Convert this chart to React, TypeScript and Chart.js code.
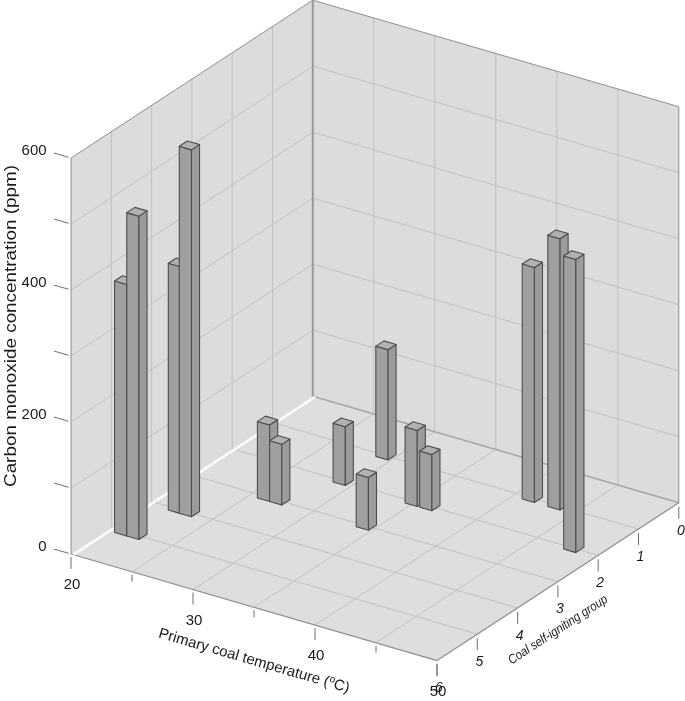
import { useEffect, useRef } from "react";
import { Chart, registerables, Plugin } from "chart.js";

Chart.register(...registerables);

// axis ticks
const tempLabels = [20, 30, 40, 50];
const tempMinor = [25, 35, 45];
const groupLabels = [0, 1, 2, 3, 4, 5, 6];
const valueLabels = [0, 200, 400, 600];
const valueMinor = [100, 300, 500];

// one bar per sample: temperature, self-igniting group, CO concentration
const barTemps = [21.1, 22.1, 22.2, 23.1, 26.2, 27.2, 29.1, 29.3, 34.3, 35.0, 36.2, 41.3, 43.4, 48.0];
const barGroups = [5, 5, 4, 4, 3, 3, 2, 1, 3, 2, 2, 1, 1, 2];
const barValues = [381, 490, 374, 556, 116, 92, 89, 167, 80, 115, 85, 356, 411, 444];

const T_MIN = 20;
const T_MAX = 50;
const G_MAX = 6;
const V_MAX = 600;

// oblique projection of the depth (group) axis and the tilt of the temperature axis
const GX = 40.3;
const GY = 26.3;
const T_SLOPE = 0.291;
const BAR_HALF_T = 0.5;
const BAR_HALF_G = 0.1;

const FONT = '"Liberation Sans", Arial, sans-serif';

type P = [number, number];

const box3dPlugin: Plugin<"scatter"> = {
  id: "box3d",
  beforeDatasetsDraw: (chart) => {
    const { ctx } = chart;
    const xs = chart.scales.x;
    const ys = chart.scales.y;
    const x0 = xs.getPixelForValue(T_MIN);

    const proj = (t: number, g: number, v: number): P => {
      const px = xs.getPixelForValue(t);
      const back = G_MAX - g;
      return [px + back * GX, ys.getPixelForValue(v) + (px - x0) * T_SLOPE - back * GY];
    };

    const poly = (pts: P[], fill: string | null, stroke: string | null, lw = 1) => {
      ctx.beginPath();
      ctx.moveTo(pts[0][0], pts[0][1]);
      for (let i = 1; i < pts.length; i++) ctx.lineTo(pts[i][0], pts[i][1]);
      ctx.closePath();
      if (fill) {
        ctx.fillStyle = fill;
        ctx.fill();
      }
      if (stroke) {
        ctx.strokeStyle = stroke;
        ctx.lineWidth = lw;
        ctx.stroke();
      }
    };

    const line = (a: P, b: P, color: string, lw = 1) => {
      ctx.beginPath();
      ctx.moveTo(a[0], a[1]);
      ctx.lineTo(b[0], b[1]);
      ctx.strokeStyle = color;
      ctx.lineWidth = lw;
      ctx.stroke();
    };

    ctx.save();

    // walls and floor
    const wall = "#dcdcdc";
    const floor = "#dedede";
    const grid = "#bdbdbd";
    const edge = "#8e8e8e";

    poly([proj(T_MIN, G_MAX, 0), proj(T_MIN, 0, 0), proj(T_MIN, 0, V_MAX), proj(T_MIN, G_MAX, V_MAX)], wall, null);
    poly([proj(T_MIN, 0, 0), proj(T_MAX, 0, 0), proj(T_MAX, 0, V_MAX), proj(T_MIN, 0, V_MAX)], wall, null);
    poly([proj(T_MIN, G_MAX, 0), proj(T_MAX, G_MAX, 0), proj(T_MAX, 0, 0), proj(T_MIN, 0, 0)], floor, null);

    const vGrid = [...valueLabels, ...valueMinor].filter((v) => v > 0 && v < V_MAX);
    vGrid.forEach((v) => {
      line(proj(T_MIN, G_MAX, v), proj(T_MIN, 0, v), grid, 0.9);
      line(proj(T_MIN, 0, v), proj(T_MAX, 0, v), grid, 0.9);
    });
    groupLabels.filter((g) => g > 0 && g < G_MAX).forEach((g) => {
      line(proj(T_MIN, g, 0), proj(T_MIN, g, V_MAX), grid, 0.9);
      line(proj(T_MIN, g, 0), proj(T_MAX, g, 0), grid, 0.9);
    });
    [...tempLabels, ...tempMinor].filter((t) => t > T_MIN && t < T_MAX).forEach((t) => {
      line(proj(t, 0, 0), proj(t, 0, V_MAX), grid, 0.9);
      line(proj(t, 0, 0), proj(t, G_MAX, 0), grid, 0.9);
    });

    // outlines
    line(proj(T_MIN, G_MAX, 0), proj(T_MIN, G_MAX, V_MAX), edge, 1);
    line(proj(T_MIN, G_MAX, V_MAX), proj(T_MIN, 0, V_MAX), edge, 1);
    line(proj(T_MIN, 0, V_MAX), proj(T_MAX, 0, V_MAX), edge, 1);
    line(proj(T_MAX, 0, V_MAX), proj(T_MAX, 0, 0), edge, 1);
    line(proj(T_MIN, 0, 0), proj(T_MIN, 0, V_MAX), "#9a9a9a", 2);
    line(proj(T_MIN, 0, 0), proj(T_MAX, 0, 0), "#a6a6a6", 1.5);
    line(proj(T_MIN, G_MAX, 0), proj(T_MAX, G_MAX, 0), edge, 1.3);
    line(proj(T_MAX, G_MAX, 0), proj(T_MAX, 0, 0), edge, 1.3);
    // light seam between the left wall and the floor
    line(proj(T_MIN + 0.2, G_MAX, 0), proj(T_MIN + 0.2, 0, 0), "#ffffff", 2.2);

    // value axis
    ctx.fillStyle = "#1a1a1a";
    ctx.font = `15px ${FONT}`;
    ctx.textAlign = "right";
    ctx.textBaseline = "middle";
    [...valueLabels, ...valueMinor].forEach((v) => {
      line(proj(T_MIN - 0.2, G_MAX, v), proj(T_MIN - 1.4, G_MAX, v), "#6e6e6e", 1);
    });
    valueLabels.forEach((v) => {
      const p = proj(T_MIN - 2.0, G_MAX, v);
      ctx.fillText(String(v), p[0], p[1]);
    });

    // temperature axis
    ctx.textAlign = "center";
    tempLabels.forEach((t) => {
      const p = proj(t, G_MAX, 0);
      line([p[0], p[1] + 3], [p[0], p[1] + 15], "#6e6e6e", 1);
      ctx.fillText(String(t), p[0] + 1, p[1] + 31);
    });
    tempMinor.forEach((t) => {
      const p = proj(t, G_MAX, 0);
      line([p[0], p[1] + 3], [p[0], p[1] + 10], "#6e6e6e", 1);
    });

    // group axis
    ctx.font = `italic 14px ${FONT}`;
    groupLabels.forEach((g) => {
      const p = proj(T_MAX, g, 0);
      line([p[0], p[1] + 4], [p[0], p[1] + 16], "#6e6e6e", 1);
      ctx.fillText(String(g), p[0] + 2, p[1] + 28);
    });

    const title = (
      parts: { text: string; font: string; dy: number }[],
      cx: number,
      cy: number,
      angle: number,
      length: number
    ) => {
      ctx.save();
      ctx.translate(cx, cy);
      ctx.rotate(angle);
      const widths = parts.map((p) => {
        ctx.font = p.font;
        return ctx.measureText(p.text).width;
      });
      const total = widths.reduce((a, b) => a + b, 0);
      ctx.scale(length / total, 1);
      ctx.textAlign = "left";
      ctx.textBaseline = "middle";
      let x = -total / 2;
      parts.forEach((p, i) => {
        ctx.font = p.font;
        ctx.fillText(p.text, x, p.dy);
        x += widths[i];
      });
      ctx.restore();
    };

    title([{ text: "Carbon monoxide concentration (ppm)", font: `17px ${FONT}`, dy: 0 }], 11, 326, -Math.PI / 2, 322);
    title(
      [
        { text: "Primary coal temperature (", font: `15px ${FONT}`, dy: 0 },
        { text: "o", font: `10px ${FONT}`, dy: -4 },
        { text: "C)", font: `15px ${FONT}`, dy: 0 },
      ],
      254,
      661,
      Math.atan(T_SLOPE),
      198
    );
    title([{ text: "Coal self-igniting group", font: `italic 13px ${FONT}`, dy: 0 }], 558, 630, -Math.atan(GY / GX), 116);

    // bars, back to front
    const data = chart.data.datasets[0].data as { x: number; y: number }[];
    const order = data
      .map((d, i) => ({ i, key: proj(d.x + BAR_HALF_T, barGroups[i] + BAR_HALF_G, 0)[1] }))
      .sort((a, b) => a.key - b.key);

    ctx.lineJoin = "round";
    order.forEach(({ i }) => {
      const { x: t, y: v } = data[i];
      const g = barGroups[i];
      const t0 = t - BAR_HALF_T;
      const t1 = t + BAR_HALF_T;
      const g0 = g - BAR_HALF_G;
      const g1 = g + BAR_HALF_G;
      const stroke = "#4d4d4d";
      poly([proj(t0, g1, 0), proj(t1, g1, 0), proj(t1, g1, v), proj(t0, g1, v)], "#9f9f9f", stroke, 1.1);
      poly([proj(t1, g1, 0), proj(t1, g0, 0), proj(t1, g0, v), proj(t1, g1, v)], "#9b9b9b", stroke, 1.1);
      poly([proj(t0, g1, v), proj(t1, g1, v), proj(t1, g0, v), proj(t0, g0, v)], "#b1b1b1", stroke, 1.1);
    });

    ctx.restore();
  },
};

export default function App() {
  const canvasRef = useRef<HTMLCanvasElement | null>(null);

  useEffect(() => {
    if (!canvasRef.current) return;

    const chart = new Chart(canvasRef.current, {
      type: "scatter",
      data: {
        datasets: [
          {
            label: "CO",
            data: barTemps.map((t, i) => ({ x: t, y: barValues[i] })),
            pointRadius: 0,
            pointHoverRadius: 0,
          },
        ],
      },
      options: {
        animation: false,
        responsive: true,
        maintainAspectRatio: false,
        layout: { padding: { left: 71, right: 248, top: 158, bottom: 147 } },
        scales: {
          x: { type: "linear", min: T_MIN, max: T_MAX, display: false },
          y: { type: "linear", min: 0, max: V_MAX, display: false },
        },
        plugins: {
          legend: { display: false },
          tooltip: { enabled: false },
        },
      },
      plugins: [box3dPlugin],
    });

    return () => {
      chart.destroy();
    };
  }, []);

  return (
    <div style={{ position: "absolute", left: 0, top: 0, width: 685, height: 701, background: "#fff" }}>
      <canvas ref={canvasRef} />
    </div>
  );
}
